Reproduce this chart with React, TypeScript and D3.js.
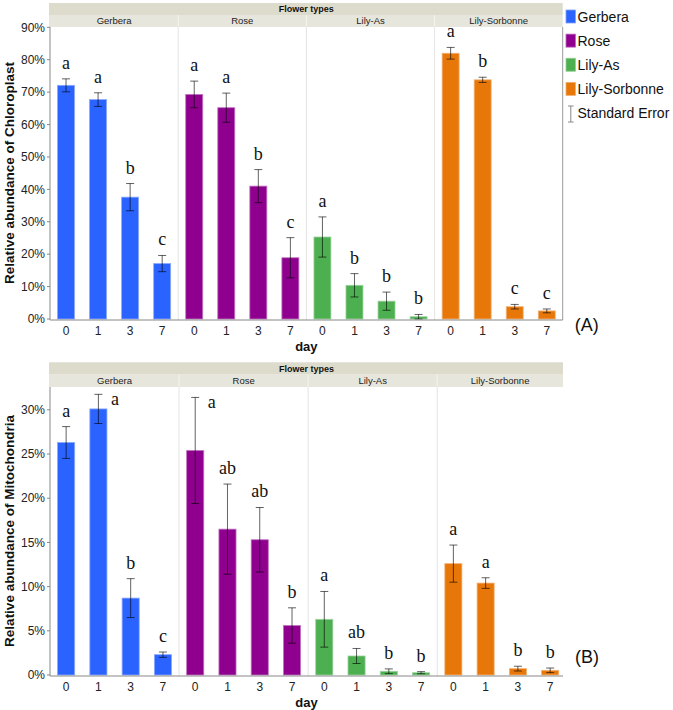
import React from "react";
import * as d3 from "d3";

const facets = ["Gerbera", "Rose", "Lily-As", "Lily-Sorbonne"];
const days = ["0", "1", "3", "7"];
const colors = ["#2a63ff", "#8f008f", "#4caf50", "#e8770a"];

// Panel A: chloroplast (%)
const chloroGerbera = [72.1, 67.7, 37.6, 17.1];
const chloroRose = [69.3, 65.2, 41.0, 18.9];
const chloroLilyAs = [25.3, 10.4, 5.5, 0.7];
const chloroSorbonne = [82.0, 73.8, 3.8, 2.5];
const chloroSeGerbera = [2.0, 2.1, 4.2, 2.5];
const chloroSeRose = [4.1, 4.5, 5.1, 6.2];
const chloroSeLilyAs = [6.2, 3.6, 2.8, 0.7];
const chloroSeSorbonne = [1.8, 0.8, 0.7, 0.6];
const chloroLetGerbera = ["a", "a", "b", "c"];
const chloroLetRose = ["a", "a", "b", "c"];
const chloroLetLilyAs = ["a", "b", "b", "b"];
const chloroLetSorbonne = ["a", "b", "c", "c"];
const chloroTicks = [0, 10, 20, 30, 40, 50, 60, 70, 80, 90];

// Panel B: mitochondria (%)
const mitoGerbera = [26.3, 30.1, 8.7, 2.3];
const mitoRose = [25.4, 16.5, 15.3, 5.6];
const mitoLilyAs = [6.3, 2.15, 0.42, 0.26];
const mitoSorbonne = [12.6, 10.4, 0.72, 0.53];
const mitoSeGerbera = [1.8, 1.65, 2.2, 0.3];
const mitoSeRose = [6.0, 5.1, 3.65, 2.0];
const mitoSeLilyAs = [3.15, 0.85, 0.27, 0.12];
const mitoSeSorbonne = [2.1, 0.6, 0.27, 0.26];
const mitoLetGerbera = ["a", "a", "b", "c"];
const mitoLetRose = ["a", "ab", "ab", "b"];
const mitoLetLilyAs = ["a", "ab", "b", "b"];
const mitoLetSorbonne = ["a", "a", "b", "b"];
const mitoTicks = [0, 5, 10, 15, 20, 25, 30];

type Row = { facet: number; day: string; key: string; mean: number; se: number; letter: string };

function build(means: number[][], ses: number[][], lets: string[][]): Row[] {
  const rows: Row[] = [];
  facets.forEach((f, fi) =>
    days.forEach((d, di) =>
      rows.push({ facet: fi, day: d, key: f + "|" + d, mean: means[fi][di], se: ses[fi][di], letter: lets[fi][di] })
    )
  );
  return rows;
}

const chloroRows = build(
  [chloroGerbera, chloroRose, chloroLilyAs, chloroSorbonne],
  [chloroSeGerbera, chloroSeRose, chloroSeLilyAs, chloroSeSorbonne],
  [chloroLetGerbera, chloroLetRose, chloroLetLilyAs, chloroLetSorbonne]
);
const mitoRows = build(
  [mitoGerbera, mitoRose, mitoLilyAs, mitoSorbonne],
  [mitoSeGerbera, mitoSeRose, mitoSeLilyAs, mitoSeSorbonne],
  [mitoLetGerbera, mitoLetRose, mitoLetLilyAs, mitoLetSorbonne]
);

const SANS = "'Liberation Sans', Arial, Helvetica, sans-serif";
const SERIF = "'Liberation Serif', 'Times New Roman', serif";

type PanelProps = {
  rows: Row[];
  ticks: number[];
  yMax: number;
  stripTop: number;
  plotTop: number;
  y0: number;
  xRight: number;
  stripRight: number;
  rightBorder: boolean;
  title: string;
  tag: string;
  tagY: number;
};

function Panel(p: PanelProps) {
  const left = 50;
  const x = d3
    .scaleBand<string>()
    .domain(p.rows.map((r) => r.key))
    .range([left, p.xRight])
    .paddingInner(0.47)
    .paddingOuter(0.235);
  const y = d3.scaleLinear().domain([0, p.yMax]).range([p.y0, p.plotTop]);
  const step = x.step();
  const bw = x.bandwidth();
  const axisY = p.y0 + 1;
  const stripH = (p.plotTop - p.stripTop) / 2;
  const seps = [1, 2, 3].map((k) => left + k * 4 * step);
  const lighten = (c: string) => d3.interpolateRgb(c, "#ffffff")(0.45);

  return (
    <g>
      {/* strips */}
      <rect x={left - 1} y={p.stripTop} width={p.stripRight - left + 1} height={stripH} fill="#dcdbcc" />
      <rect x={left - 1} y={p.stripTop + stripH} width={p.stripRight - left + 1} height={stripH} fill="#e7e6dc" />
      <text
        x={(left + p.stripRight) / 2}
        y={p.stripTop + stripH / 2 + 3.2}
        textAnchor="middle"
        fontFamily={SANS}
        fontWeight="bold"
        fontSize={9}
        fill="#111"
      >
        Flower types
      </text>
      {facets.map((f, i) => {
        const x0 = left + i * 4 * step;
        const x1 = i === 3 ? p.stripRight : left + (i + 1) * 4 * step;
        return (
          <text
            key={f}
            x={(x0 + x1) / 2}
            y={p.stripTop + stripH * 1.5 + 3.3}
            textAnchor="middle"
            fontFamily={SANS}
            fontSize={9.5}
            fill="#222"
          >
            {f}
          </text>
        );
      })}
      {seps.map((s, i) => (
        <line key={"ss" + i} x1={s} x2={s} y1={p.stripTop + stripH} y2={p.plotTop} stroke="#f4f3ee" strokeWidth={1} />
      ))}
      {/* facet separators */}
      {seps.map((s, i) => (
        <line key={"sp" + i} x1={s} x2={s} y1={p.plotTop} y2={axisY} stroke="#e4e4e4" strokeWidth={1} />
      ))}
      {p.rightBorder && (
        <line x1={p.stripRight} x2={p.stripRight} y1={p.plotTop} y2={axisY} stroke="#9a9a9a" strokeWidth={1} />
      )}
      {/* bars */}
      {p.rows.map((r) => (
        <rect
          key={"b" + r.key}
          x={x(r.key)!}
          y={y(r.mean)}
          width={bw}
          height={p.y0 - y(r.mean)}
          fill={colors[r.facet]}
          stroke={lighten(colors[r.facet])}
          strokeWidth={0.8}
        />
      ))}
      {/* error bars */}
      {p.rows.map((r) => {
        const cx = x(r.key)! + bw / 2;
        const t = y(r.mean + r.se);
        const b = y(Math.max(0, r.mean - r.se));
        return (
          <g key={"e" + r.key} stroke="#000" strokeOpacity={0.62} strokeWidth={1}>
            <line x1={cx} x2={cx} y1={t} y2={b} />
            <line x1={cx - 4} x2={cx + 4} y1={t} y2={t} />
            <line x1={cx - 4} x2={cx + 4} y1={b} y2={b} />
          </g>
        );
      })}
      {/* letters */}
      {p.rows.map((r) => {
        const cx = x(r.key)! + bw / 2;
        const t = y(r.mean + r.se);
        const base = t - 10;
        const side = base - 9 < p.plotTop;
        return (
          <text
            key={"l" + r.key}
            x={side ? x(r.key)! + bw + 4 : cx}
            y={side ? t + 11 : base}
            textAnchor={side ? "start" : "middle"}
            fontFamily={SERIF}
            fontSize={18}
            fill="#111"
          >
            {r.letter}
          </text>
        );
      })}
      {/* axes */}
      <line x1={left} x2={left} y1={p.plotTop} y2={axisY} stroke="#888" strokeWidth={1} />
      <line x1={left} x2={p.stripRight} y1={axisY} y2={axisY} stroke="#888" strokeWidth={1} />
      {p.ticks.map((t) => (
        <g key={"t" + t}>
          <line x1={left - 3} x2={left} y1={y(t)} y2={y(t)} stroke="#888" />
          <text x={left - 5} y={y(t) + 4.2} textAnchor="end" fontFamily={SANS} fontSize={12} fill="#222">
            {t + "%"}
          </text>
        </g>
      ))}
      {p.rows.map((r) => (
        <text
          key={"x" + r.key}
          x={x(r.key)! + bw / 2}
          y={axisY + 15}
          textAnchor="middle"
          fontFamily={SANS}
          fontSize={12}
          fill="#222"
        >
          {r.day}
        </text>
      ))}
      <text
        x={(left + p.stripRight) / 2}
        y={axisY + 31}
        textAnchor="middle"
        fontFamily={SANS}
        fontWeight="bold"
        fontSize={13}
        fill="#111"
      >
        day
      </text>
      <text
        transform={`translate(14,${(p.plotTop + p.y0) / 2}) rotate(-90)`}
        textAnchor="middle"
        fontFamily={SANS}
        fontWeight="bold"
        fontSize={13.5}
        fill="#111"
      >
        {p.title}
      </text>
      <text x={p.stripRight + 12} y={p.tagY} fontFamily={SANS} fontSize={18} fill="#111">
        {p.tag}
      </text>
    </g>
  );
}

function Legend() {
  const items = facets.map((f, i) => ({ label: f, color: colors[i] }));
  const x0 = 566;
  const yc = d3.scaleLinear().domain([0, 4]).range([16.5, 113]);
  return (
    <g>
      {items.map((it, i) => (
        <g key={it.label}>
          <rect x={x0} y={yc(i) - 6.5} width={9.5} height={13} fill={it.color} stroke={d3.interpolateRgb(it.color, "#fff")(0.4)} strokeWidth={0.8} />
          <text x={x0 + 11.5} y={yc(i) + 5} fontFamily={SANS} fontSize={14} fill="#111">
            {it.label}
          </text>
        </g>
      ))}
      <g stroke="#888" strokeWidth={1}>
        <line x1={x0 + 4.8} x2={x0 + 4.8} y1={yc(4) - 7} y2={yc(4) + 9} />
        <line x1={x0 + 2} x2={x0 + 7.6} y1={yc(4) - 7} y2={yc(4) - 7} />
        <line x1={x0 + 2} x2={x0 + 7.6} y1={yc(4) + 9} y2={yc(4) + 9} />
      </g>
      <text x={x0 + 11.5} y={yc(4) + 5} fontFamily={SANS} fontSize={14} fill="#111">
        Standard Error
      </text>
    </g>
  );
}

export default function App() {
  return (
    <svg
      width={673}
      height={710}
      viewBox="0 0 673 710"
      style={{ position: "absolute", left: 0, top: 0, background: "#fff" }}
    >
      <rect width={673} height={710} fill="#fff" />
      <Panel
        rows={chloroRows}
        ticks={chloroTicks}
        yMax={90.1}
        stripTop={3}
        plotTop={27}
        y0={319}
        xRight={562.8}
        stripRight={562.7}
        rightBorder={true}
        title="Relative abundance of Chloroplast"
        tag="(A)"
        tagY={331}
      />
      <Panel
        rows={mitoRows}
        ticks={mitoTicks}
        yMax={32.58}
        stripTop={362.3}
        plotTop={387}
        y0={675}
        xRight={566.3}
        stripRight={563}
        rightBorder={false}
        title="Relative abundance of Mitochondria"
        tag="(B)"
        tagY={663}
      />
      <Legend />
    </svg>
  );
}
